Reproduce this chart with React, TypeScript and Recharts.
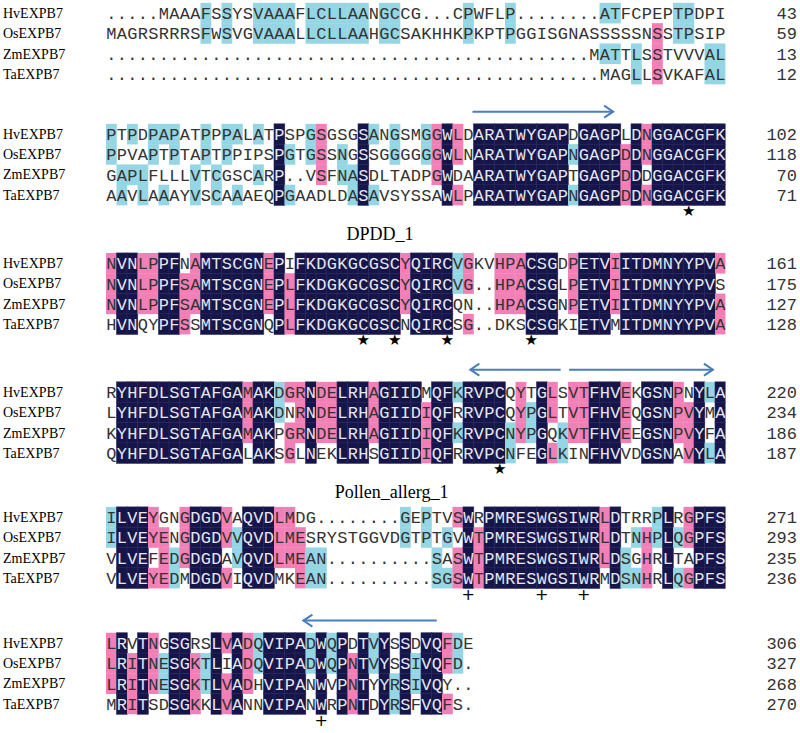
import { ScatterChart, Scatter, XAxis, YAxis, ReferenceLine, ReferenceArea } from 'recharts'

// Alignment rows, one string per species per block
const ROW_NAMES = ['HvEXPB7', 'OsEXPB7', 'ZmEXPB7', 'TaEXPB7']

const BLOCK_1 = [
  '.....MAAAFSSYSVAAAFLCLLAANGCCG...CPWFLP........ATFCPEPTPDPI',
  'MAGRSRRRSFWSVGVAAALLCLLAAHGCSAKHHKPKPTPGGISGNASSSSSNSSTPSIP',
  '..............................................MATTLSSTVVVAL',
  '...............................................MAGLLSVKAFAL',
]
const BLOCK_2 = [
  'PTPDPAPATPPPALATPSPGSGSGSANGSMGGWLDARATWYGAPDGAGPLDNGGACGFK',
  'PPVAPTPTAPTPPIPSPGTGSSNGSSGGGGGGWLNARATWYGAPNGAGPDDNGGACGFK',
  'GAPLFLLLVTCGSCARP..VSFNASDLTADPGWDAARATWYGAPTGAGPDDDGGACGFK',
  'AAVLAAAYVSCAAAEQPGAADLDASAVSYSSAWLPARATWYGAPNGAGPDDNGGACGFK',
]
const BLOCK_3 = [
  'NVNLPPFNAMTSCGNEPIFKDGKGCGSCYQIRCVGKVHPACSGDPETVIITDMNYYPVA',
  'NVNLPPFSAMTSCGNEPLFKDGKGCGSCYQIRCVG..HPACSGLPETVIITDMNYYPVS',
  'NVNLPPFSAMTSCGNEPLFKDGKGCGSCYQIRCQN..HPACSGNPETVIITDMNYYPVA',
  'HVNQYPFSSMTSCGNQPLFKDGKGCGSCNQIRCSG..DKSCSGKIETVMITDMNYYPVA',
]
const BLOCK_4 = [
  'RYHFDLSGTAFGAMAKDGRNDELRHAGIIDMQFKRVPCQYTGLSVTFHVEKGSNPNYLA',
  'LYHFDLSGTAFGAMAKDNRNDELRHAGIIDIQFRRVPCQYPGLTVTFHVEQGSNPVYMA',
  'KYHFDLSGTAFGAMAKPGRNDELRHAGIIDIQFKRVPCNYPGQKVTFHVEEGSNPVYFA',
  'QYHFDLSGTAFGALAKSGLNEKLRHSGIIDIQFRRVPCNFEGLKINFHVVDGSNAVYLA',
]
const BLOCK_5 = [
  'ILVEYGNGDGDVAQVDLMDG........GEPTVSWRPMRESWGSIWRLDTRRPLRGPFS',
  'ILVEYENGDGDVVQVDLMESRYSTGGVDGTPTGVWTPMRESWGSIWRLDTNHPLQGPFS',
  'VLVEFEDGDGDAVQVDLMEAN..........SASWTPMRESWGSIWRLDSGHRLTAPFS',
  'VLVEYEDMDGDVIQVDMKEAN..........SGSWTPMRESWGSIWRMDSNHRLQGPFS',
]
const BLOCK_6 = [
  'LRVTNGSGRSLVADQVIPADWQPDTVYSSDVQFDE',
  'LRITNESGKTLIADQVIPADWQPNTVYSSIVQFD.',
  'LRITNESGKTLVADHVIPANWVPNTYYRSIVQY..',
  'MRITSDSGKKLVANNVIPANWRPNTDYRSFVQFS.',
]
const BLOCKS = [BLOCK_1, BLOCK_2, BLOCK_3, BLOCK_4, BLOCK_5, BLOCK_6]

// residue number at the end of each line
const END_NUMBERS = [
  [43, 59, 13, 12],
  [102, 118, 70, 71],
  [161, 175, 127, 128],
  [220, 234, 186, 187],
  [271, 293, 235, 236],
  [306, 327, 268, 270],
]

// marks under the alignment (column numbers within the block)
const STAR_COLS = [[], [56], [25, 28, 33, 41], [38], [], []]
const PLUS_COLS = [[], [], [], [], [35, 42, 46], [21]]

// secondary-structure arrows: from column -> to column
const ARROWS = [
  { block: 1, from: 35.4, to: 48.8 },
  { block: 3, from: 43.8, to: 35.2 },
  { block: 3, from: 44.6, to: 58.3 },
  { block: 5, from: 32, to: 19.3 },
]

const DOMAIN_LABELS = [
  { block: 1, col: 26.6, text: 'DPDD_1' },
  { block: 3, col: 27.7, text: 'Pollen_allerg_1' },
]

// boxed motif (block, first col, last col, rows)
const BOX = { block: 3, from: 3, to: 5, rows: 3 }

// layout
const W = 800
const H = 733
const LINE_PX = 20.3
const TOP_PX = 13
const COL_W = 10.5
const LEFT = 106
const RIGHT = W - LEFT - 59 * COL_W
const BLOCK_LINE = [0, 5.96, 12.32, 18.67, 24.83, 31.03]
const MARK_OFFSET = 3.8
const ARROW_OFFSET = -1.1
const LABEL_OFFSET = 4.93

const NAVY = '#15154a'
const PINK = '#f27fb5'
const CYAN = '#94d6e3'
const MONO = '"Liberation Mono", "Courier New", monospace'
const SERIF = '"Liberation Serif", "Times New Roman", serif'

type CellPoint = { x: number; y: number; ch: string; level: number }

const cells: CellPoint[] = []
const rowTicks: number[] = []
const rowLabels: string[] = []
const rowNumbers: number[] = []

BLOCKS.forEach((rows, b) => {
  const len = rows[0].length
  for (let c = 0; c < len; c++) {
    const counts: Record<string, number> = {}
    rows.forEach(r => {
      const ch = r[c]
      if (ch !== '.') counts[ch] = (counts[ch] ?? 0) + 1
    })
    // consensus residue of the column (ties -> alphabetical first)
    let best = ''
    Object.keys(counts).sort().forEach(k => {
      if (!best || counts[k] > counts[best]) best = k
    })
    const n = best ? counts[best] : 0
    rows.forEach((r, i) => {
      const ch = r[c]
      cells.push({ x: c + 1, y: BLOCK_LINE[b] + i, ch, level: ch === best && n >= 2 ? n : 0 })
    })
  }
  rows.forEach((_, i) => {
    rowTicks.push(BLOCK_LINE[b] + i)
    rowLabels.push(ROW_NAMES[i])
    rowNumbers.push(END_NUMBERS[b][i])
  })
})

const stars = STAR_COLS.flatMap((cols, b) => cols.map(c => ({ x: c, y: BLOCK_LINE[b] + MARK_OFFSET })))
const pluses = PLUS_COLS.flatMap((cols, b) => cols.map(c => ({ x: c, y: BLOCK_LINE[b] + MARK_OFFSET })))
const domainPoints = DOMAIN_LABELS.map(d => ({ x: d.col, y: BLOCK_LINE[d.block] + LABEL_OFFSET, text: d.text }))

const FILLS: Record<number, string> = { 4: NAVY, 3: PINK, 2: CYAN }

const ResidueCell = (props: any) => {
  const { cx, cy, payload } = props
  const fill = FILLS[payload.level]
  return (
    <g>
      {fill && (
        <rect
          x={cx - COL_W / 2}
          y={cy - LINE_PX / 2}
          width={COL_W + 0.3}
          height={LINE_PX + 0.3}
          fill={fill}
          stroke={payload.level === 4 ? '#2c2c62' : 'none'}
          strokeWidth={0.6}
        />
      )}
      <text
        x={cx}
        y={cy}
        dy="0.36em"
        textAnchor="middle"
        fontFamily={MONO}
        fontSize={17}
        fill={payload.level === 4 ? '#e6e6ee' : '#333'}
      >
        {payload.ch}
      </text>
    </g>
  )
}

const MarkGlyph = (glyph: string, size: number) => (props: any) => (
  <text x={props.cx} y={props.cy} dy="0.35em" textAnchor="middle" fontSize={size} fontFamily='"DejaVu Sans", sans-serif' fill="#000">
    {glyph}
  </text>
)

const DomainLabel = (props: any) => (
  <text x={props.cx} y={props.cy} dy="0.35em" textAnchor="middle" fontSize={18} fontFamily={SERIF} fill="#000">
    {props.payload.text}
  </text>
)

const ArrowShape = (props: any) => {
  const { x1, y1, x2, y2 } = props
  const dir = x2 > x1 ? 1 : -1
  return (
    <g stroke="#4a7ebb" strokeWidth={2} fill="none">
      <line x1={x1} y1={y1} x2={x2} y2={y2} />
      <polyline points={`${x2 - dir * 9},${y2 - 6} ${x2},${y2} ${x2 - dir * 9},${y2 + 6}`} />
    </g>
  )
}

const NameTick = (props: any) => (
  <text x={3} y={props.y} dy="0.35em" fontSize={14} fontFamily={SERIF} fill="#000">
    {rowLabels[props.index]}
  </text>
)

const NumberTick = (props: any) => (
  <text x={797} y={props.y} dy="0.36em" textAnchor="end" fontSize={17} fontFamily={MONO} fill="#333">
    {rowNumbers[props.index]}
  </text>
)

const Y_DOMAIN = [-TOP_PX / LINE_PX, (H - TOP_PX) / LINE_PX]

export default function App() {
  return (
    <div style={{ position: 'absolute', left: 0, top: 0, width: W, height: H, background: '#fff' }}>
      <ScatterChart width={W} height={H} margin={{ top: 0, right: 0, bottom: 0, left: 0 }}>
        <XAxis type="number" dataKey="x" domain={[0.5, 59.5]} hide allowDataOverflow />
        <YAxis
          yAxisId="left"
          type="number"
          dataKey="y"
          domain={Y_DOMAIN}
          reversed
          allowDataOverflow
          width={LEFT}
          ticks={rowTicks}
          interval={0}
          tick={<NameTick />}
          tickLine={false}
          axisLine={false}
        />
        <YAxis
          yAxisId="right"
          orientation="right"
          type="number"
          dataKey="y"
          domain={Y_DOMAIN}
          reversed
          allowDataOverflow
          width={RIGHT}
          ticks={rowTicks}
          interval={0}
          tick={<NumberTick />}
          tickLine={false}
          axisLine={false}
        />
        <Scatter yAxisId="left" data={cells} shape={ResidueCell} isAnimationActive={false} />
        <Scatter yAxisId="left" data={stars} shape={MarkGlyph('★', 15)} isAnimationActive={false} />
        <Scatter yAxisId="left" data={pluses} shape={MarkGlyph('+', 16)} isAnimationActive={false} />
        <Scatter yAxisId="left" data={domainPoints} shape={DomainLabel} isAnimationActive={false} />
        {ARROWS.map((a, i) => (
          <ReferenceLine
            key={i}
            yAxisId="left"
            segment={[
              { x: a.from, y: BLOCK_LINE[a.block] + ARROW_OFFSET },
              { x: a.to, y: BLOCK_LINE[a.block] + ARROW_OFFSET },
            ]}
            shape={ArrowShape}
          />
        ))}
        <ReferenceArea
          yAxisId="left"
          x1={BOX.from - 0.5}
          x2={BOX.to + 0.5}
          y1={BLOCK_LINE[BOX.block] - 0.45}
          y2={BLOCK_LINE[BOX.block] + BOX.rows - 0.3}
          fill="none"
          stroke="#e02424"
          strokeWidth={2}
          strokeDasharray="7 5"
          ifOverflow="visible"
        />
      </ScatterChart>
    </div>
  )
}
